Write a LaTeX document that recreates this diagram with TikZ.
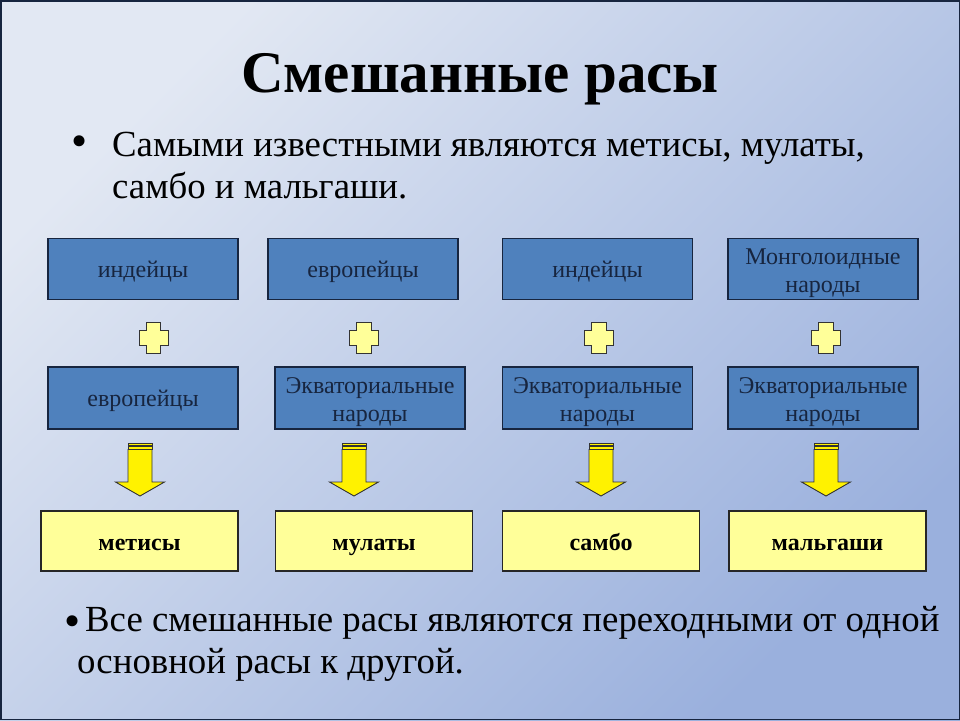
\documentclass[tikz,border=0pt]{standalone}
\usepackage{fontspec}
\setmainfont{Liberation Serif}
\usetikzlibrary{positioning,calc}
\definecolor{boxblue}{HTML}{4F81BD}
\definecolor{navy}{HTML}{17253F}
\definecolor{paleyel}{HTML}{FFFF99}
\definecolor{bgtop}{HTML}{E2E8F3}
\definecolor{bgbot}{HTML}{9AB0DD}
\tikzset{
  bluebox/.style={draw=navy,line width=1.3pt,fill=boxblue,text=navy,minimum width=190pt,minimum height=61pt,
    inner sep=0pt,align=center,font=\fontsize{24}{27.5}\selectfont,text height=20pt,text depth=2.5pt},
  twoline/.style={minimum height=62pt,text height=51pt,text depth=4.5pt},
  yelbox/.style={draw=black!85,line width=1.3pt,fill=paleyel,minimum width=197pt,minimum height=60pt,
    inner sep=0pt,font=\fontsize{24}{27.5}\selectfont\bfseries,text height=21pt,text depth=2pt},
  plussign/.style={draw=black!80,line width=1pt,fill=paleyel},
  arrowsign/.style={draw=black!80,line width=.9pt,fill=yellow},
  bullettext/.style={anchor=base west,inner sep=0pt,font=\fontsize{36.8}{40}\selectfont},
  bulletdot/.style={anchor=base,inner sep=0pt,font=\fontsize{46}{46}\selectfont}
}
\begin{document}
\begin{tikzpicture}[x=1pt,y=-1pt]
\useasboundingbox (0,0) rectangle (960,720);
% background
\shade[top color=bgtop,bottom color=bgbot,shading angle=45] (0,0) rectangle (960,720);
\draw[navy,line width=1.5pt] (.75,.75) rectangle (959.25,719.25);
% title and first bullet
\node[anchor=base,font=\fontsize{59}{59}\selectfont\bfseries] (title) at (480,92){Смешанные расы};
\node[bulletdot] (dot1) at (80,156){•};
\node[bullettext] (b1a) at (112,156){Самыми известными являются метисы, мулаты,};
\node[bullettext] (b1b) at (112,198){самбо и мальгаши.};
% rows of boxes
\foreach \i/\x/\t in {1/143/индейцы,2/363/европейцы,3/597.5/индейцы}
  \node[bluebox] (a\i) at (\x,269){\t};
\node[bluebox,twoline,minimum height=61pt] (a4) at (823,269){Монголоидные\\народы};
\node[bluebox,minimum height=62pt] (m1) at (143,398){европейцы};
\foreach \i/\x in {2/370,3/597.5,4/823}
  \node[bluebox,twoline] (m\i) at (\x,398){Экваториальные\\народы};
\foreach \i/\x/\t in {1/139.5/метисы,2/374/мулаты,3/601/самбо,4/827.5/мальгаши}
  \node[yelbox] (r\i) at (\x,541){\t};
% plus signs
\foreach \x in {153.5,364,599,826}
  \filldraw[plussign,shift={(\x,337.5)}] (-7.3,-15.5)--(7.3,-15.5)--(7.3,-7.5)--(14.5,-7.5)--(14.5,7.5)--(7.3,7.5)
    --(7.3,15.5)--(-7.3,15.5)--(-7.3,7.5)--(-14.5,7.5)--(-14.5,-7.5)--(-7.3,-7.5)--cycle;
% striped arrows
\foreach \x in {140,354,601,826}{
  \filldraw[arrowsign,shift={(\x,443)}] (-12,0) rectangle (12,2.5);
  \filldraw[arrowsign,shift={(\x,443)}] (-12,3.5) rectangle (12,6);
  \filldraw[arrowsign,shift={(\x,443)}] (-12,6.5)--(12,6.5)--(12,39)--(24.5,39)--(0,53)--(-24.5,39)--(-12,39)--cycle;}
% second bullet
\node[bulletdot] (dot2) at (73,636){•};
\node[bullettext] (b2a) at (85,631){Все смешанные расы являются переходными от одной};
\node[bullettext] (b2b) at (77,673){основной расы к другой.};
\end{tikzpicture}
\end{document}
